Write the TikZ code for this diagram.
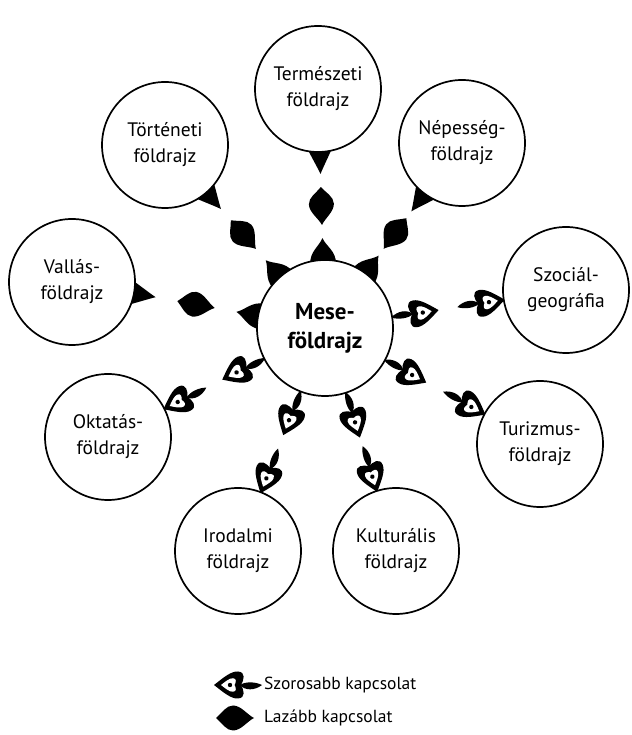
\documentclass[tikz,border=0pt]{standalone}
\usepackage{fontspec}
\setmainfont{PT Sans}
\usetikzlibrary{calc,backgrounds}
\tikzset{
  geo/.style={circle, draw, line width=1.7pt, fill=white, minimum size=126pt, inner sep=0pt, align=center, font=\fontsize{19.5}{26}\selectfont},
  mese/.style={geo, minimum size=136pt, font=\bfseries\fontsize{23}{29}\selectfont},
  legendtext/.style={anchor=west, inner sep=0pt, font=\fontsize{17.5}{20}\selectfont},
}
\def\Ro{63}
\def\Rm{68}
\newcommand\getgeom[2]{%
  \path let \p1=($(#1.center)-(#2.center)$) in
    \pgfextra{\pgfmathsetmacro\tmpA{atan2(\y1,\x1)}\pgfmathsetmacro\tmpD{veclen(\x1,\y1)}%
      \xdef\ang{\tmpA}\xdef\dist{\tmpD}};%
}
\newcommand\heartpath{(0,0) .. controls (-3,5) and (-5,13) .. (3,13.5) .. controls (10,14) and (18,7) .. (27,0) .. controls (18,-7) and (10,-14) .. (3,-13.5) .. controls (-5,-13) and (-3,-5) .. (0,0) -- cycle}
\newcommand\lemonpath{(0,0) .. controls (7,3.5) and (13,12.5) .. (21,12.5) .. controls (28,12.5) and (32,5) .. (38,0) .. controls (32,-5) and (28,-12.5) .. (21,-12.5) .. controls (13,-12.5) and (7,-3.5) .. (0,0) -- cycle}
\newcommand\heartleaf[1]{%
  \begin{scope}[shift={(#1,0)}]
    \fill \heartpath;
    \begin{scope}[shift={(6.5,0)}, scale=0.5]
      \fill[white] \heartpath;
    \end{scope}
    \fill (11,0) circle (2.2);
    \fill (1,0) .. controls (-4,6) and (-14,5.5) .. (-21,0) .. controls (-14,-3.5) and (-4,-3.5) .. (1,0) -- cycle;
  \end{scope}}
\newcommand\lazabb[1]{%
  \getgeom{#1}{M}%
  \begin{scope}[shift={(M.center)}, rotate=\ang]
    \pgfmathsetmacro\La{\Rm}
    \pgfmathsetmacro\Lb{\dist-\Ro}
    \pgfmathsetmacro\Lp{\La+22+(\Lb-\La-82)/2}
    \fill (\La-4,13) .. controls (\La+9,13) and (\La+13,4) .. (\La+22,0) .. controls (\La+13,-4) and (\La+9,-13) .. (\La-4,-13) -- cycle;
    \begin{scope}[shift={(\Lp,0)}]
      \fill \lemonpath;
    \end{scope}
    \fill (\Lb+4,12.5) .. controls (\Lb-4,9) and (\Lb-14,3.5) .. (\Lb-22,0) .. controls (\Lb-14,-3.5) and (\Lb-4,-9) .. (\Lb+4,-12.5) -- cycle;
  \end{scope}}
\newcommand\szoros[1]{%
  \getgeom{#1}{M}%
  \begin{scope}[shift={(M.center)}, rotate=\ang]
    \pgfmathsetmacro\La{\Rm}
    \pgfmathsetmacro\Lb{\dist-\Ro}
    \heartleaf{\La+20}
    \heartleaf{\Lb-26}
  \end{scope}}
\begin{document}
\begin{tikzpicture}[x=1pt,y=1pt]
\useasboundingbox (0,0) rectangle (631,735);
\node[mese] (M) at (325,407) {Mese-\\földrajz};
\node[geo] (Term) at (318,646) {Természeti\\földrajz};
\node[geo] (Tort) at (165,590) {Történeti\\földrajz};
\node[geo] (Nep) at (462,592) {Népesség-\\földrajz};
\node[geo] (Vall) at (72,453) {Vallás-\\földrajz};
\node[geo] (Szoc) at (566,445) {Szociál-\\geográfia};
\node[geo] (Okt) at (108,298) {Oktatás-\\földrajz};
\node[geo] (Tur) at (540,291) {Turizmus-\\földrajz};
\node[geo] (Irod) at (238,184) {Irodalmi\\földrajz};
\node[geo] (Kult) at (396,184) {Kulturális\\földrajz};
\begin{pgfonlayer}{background}
  \lazabb{Term}
  \lazabb{Tort}
  \lazabb{Nep}
  \lazabb{Vall}
  \szoros{Szoc}
  \szoros{Okt}
  \szoros{Tur}
  \szoros{Irod}
  \szoros{Kult}
\end{pgfonlayer}
% legend
\coordinate (L1) at (241,50);
\coordinate (L2) at (254,17);
\begin{scope}[shift={(L1)}, rotate=180]
  \heartleaf{0}
\end{scope}
\begin{scope}[shift={(L2)}, rotate=180]
  \fill \lemonpath;
\end{scope}
\node[legendtext] (T1) at (264,50) {Szorosabb kapcsolat};
\node[legendtext] (T2) at (264,17) {Lazább kapcsolat};
\end{tikzpicture}
\end{document}
